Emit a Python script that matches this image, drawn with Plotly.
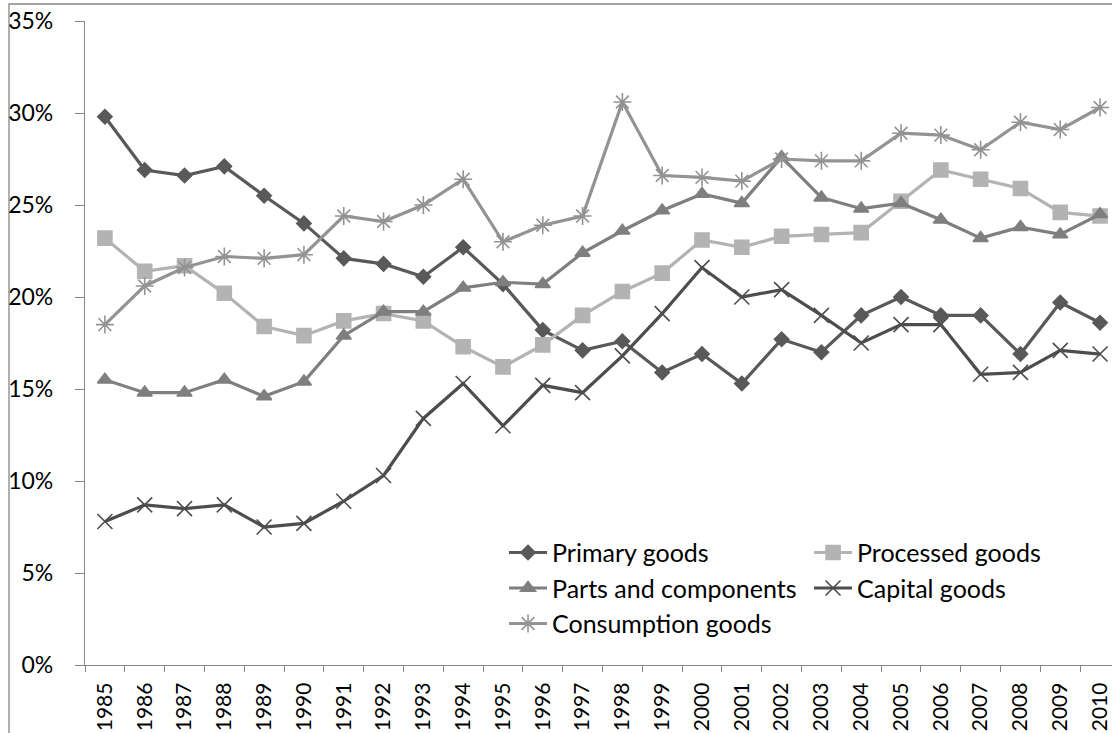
import plotly.graph_objects as go

# Share of exports by production stage, 1985-2010 (percent)
years = [str(y) for y in range(1985, 2011)]

primary_goods = [29.8, 26.9, 26.6, 27.1, 25.5, 24.0, 22.1, 21.8, 21.1, 22.7, 20.7, 18.2,
                 17.1, 17.6, 15.9, 16.9, 15.3, 17.7, 17.0, 19.0, 20.0, 19.0, 19.0, 16.9,
                 19.7, 18.6]
processed_goods = [23.2, 21.4, 21.7, 20.2, 18.4, 17.9, 18.7, 19.1, 18.7, 17.3, 16.2, 17.4,
                   19.0, 20.3, 21.3, 23.1, 22.7, 23.3, 23.4, 23.5, 25.2, 26.9, 26.4, 25.9,
                   24.6, 24.4]
parts_components = [15.5, 14.8, 14.8, 15.5, 14.6, 15.4, 17.9, 19.2, 19.2, 20.5, 20.8, 20.7,
                    22.4, 23.6, 24.7, 25.6, 25.1, 27.6, 25.4, 24.8, 25.1, 24.2, 23.2, 23.8,
                    23.4, 24.5]
capital_goods = [7.8, 8.7, 8.5, 8.7, 7.5, 7.7, 8.9, 10.3, 13.4, 15.3, 13.0, 15.2,
                 14.8, 16.8, 19.1, 21.6, 20.0, 20.4, 19.0, 17.5, 18.5, 18.5, 15.8, 15.9,
                 17.1, 16.9]
consumption_goods = [18.5, 20.6, 21.6, 22.2, 22.1, 22.3, 24.4, 24.1, 25.0, 26.4, 23.0, 23.9,
                     24.4, 30.6, 26.6, 26.5, 26.3, 27.5, 27.4, 27.4, 28.9, 28.8, 28.0, 29.5,
                     29.1, 30.3]

y_tick_vals = [0, 5, 10, 15, 20, 25, 30, 35]
y_tick_text = ["0%", "5%", "10%", "15%", "20%", "25%", "30%", "35%"]

FONT = "Lato"
AXIS_GREY = "#868686"

series = [
    dict(name="Primary goods", y=primary_goods, color="#595959",
         symbol="diamond", size=11, legend="legend"),
    dict(name="Processed goods", y=processed_goods, color="#b3b3b3",
         symbol="square", size=14, legend="legend2"),
    dict(name="Parts and components", y=parts_components, color="#7f7f7f",
         symbol="triangle-up", size=13, legend="legend"),
    dict(name="Capital goods", y=capital_goods, color="#4d4d4d",
         symbol="x-thin-open", size=15, legend="legend2"),
    dict(name="Consumption goods", y=consumption_goods, color="#939393",
         symbol="asterisk-open", size=15, legend="legend"),
]

fig = go.Figure()
for s in series:
    fig.add_trace(go.Scatter(
        x=years, y=s["y"], name=s["name"], mode="lines+markers",
        line=dict(color=s["color"], width=3.2),
        marker=dict(symbol=s["symbol"], size=s["size"], color=s["color"],
                    line=dict(color=s["color"], width=1.6)),
        legend=s["legend"], legendgroup=s["name"],
    ))

legend_common = dict(
    orientation="v", xanchor="left", yanchor="top",
    font=dict(family=FONT, size=25, color="#000000"),
    bgcolor="rgba(0,0,0,0)", tracegroupgap=0, itemwidth=38,
)

fig.update_layout(
    width=1112, height=733,
    margin=dict(l=85, r=0, t=21, b=68),
    paper_bgcolor="#ffffff", plot_bgcolor="#ffffff",
    font=dict(family=FONT, size=22, color="#000000"),
    showlegend=True,
    legend=dict(x=0.408, y=0.21, **legend_common),
    legend2=dict(x=0.705, y=0.21, **legend_common),
    xaxis=dict(
        type="category", range=[-0.5, 25.3],
        showline=True, linecolor=AXIS_GREY, linewidth=1.3,
        ticks="outside", ticklen=6, tickcolor=AXIS_GREY, tickwidth=1.3,
        tickson="boundaries", tickangle=-90, ticklabelstandoff=8,
        showgrid=False, zeroline=False,
        tickfont=dict(family=FONT, size=21, color="#000000"),
    ),
    yaxis=dict(
        range=[0, 35], tickmode="array", tickvals=y_tick_vals, ticktext=y_tick_text,
        showline=True, linecolor=AXIS_GREY, linewidth=1.3,
        ticks="outside", ticklen=9, tickcolor=AXIS_GREY, tickwidth=1.3,
        ticklabelstandoff=17, showgrid=False, zeroline=False,
        tickfont=dict(family=FONT, size=23, color="#000000"),
    ),
    shapes=[dict(
        type="rect", xref="paper", yref="paper",
        x0=-0.074, x1=1.05, y0=-0.3, y1=1.0264,
        line=dict(color=AXIS_GREY, width=1.3), fillcolor="rgba(0,0,0,0)",
        layer="below",
    )],
)

fig.write_html("out.html")
